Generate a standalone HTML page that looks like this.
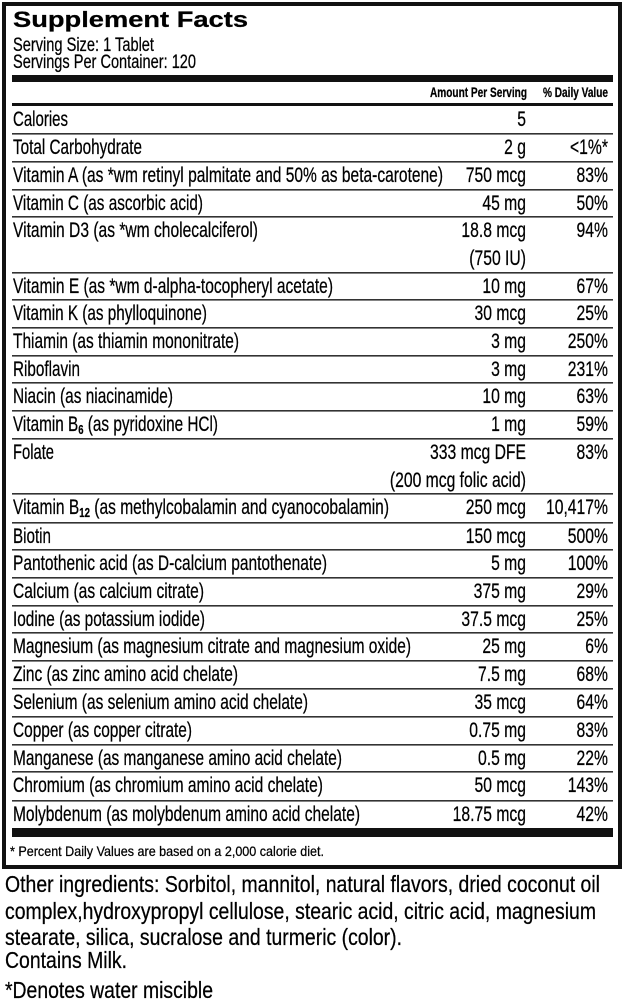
<!DOCTYPE html>
<html>
<head>
<meta charset="utf-8">
<style>
  html,body{margin:0;padding:0;background:#fff;}
  body{width:626px;height:1003px;overflow:hidden;}
  svg{display:block;}
  text{font-family:"Liberation Sans", Arial, sans-serif;fill:#000;stroke:#000;stroke-width:0.25;}
</style>
</head>
<body>
<svg width="626" height="1003" viewBox="0 0 626 1003" xmlns="http://www.w3.org/2000/svg">
  <rect x="0" y="0" width="626" height="1003" fill="#fff"/>
  <!-- outer box -->
  <rect x="4" y="4" width="616" height="863" fill="none" stroke="#111" stroke-width="4"/>

  <!-- header -->
  <text x="13" y="27" font-size="22" font-weight="bold" textLength="235" lengthAdjust="spacingAndGlyphs">Supplement Facts</text>
  <text x="13" y="51" font-size="19" textLength="141" lengthAdjust="spacingAndGlyphs">Serving Size: 1 Tablet</text>
  <text x="13" y="68" font-size="19" textLength="183" lengthAdjust="spacingAndGlyphs">Servings Per Container: 120</text>

  <rect x="12" y="75" width="601" height="7" fill="#111"/>
  <text x="430" y="97" font-size="13.5" font-weight="bold" textLength="97" lengthAdjust="spacingAndGlyphs">Amount Per Serving</text>
  <text x="543" y="97" font-size="13.5" font-weight="bold" textLength="65" lengthAdjust="spacingAndGlyphs">% Daily Value</text>
  <rect x="12" y="103" width="601" height="3" fill="#111"/>

  <!-- row separators -->
  <g fill="#333">
    <rect x="12" y="133" width="601" height="1.6"/>
    <rect x="12" y="161" width="601" height="1.6"/>
    <rect x="12" y="189" width="601" height="1.6"/>
    <rect x="12" y="216" width="601" height="1.6"/>
    <rect x="12" y="272" width="601" height="1.6"/>
    <rect x="12" y="299" width="601" height="1.6"/>
    <rect x="12" y="327" width="601" height="1.6"/>
    <rect x="12" y="355" width="601" height="1.6"/>
    <rect x="12" y="382" width="601" height="1.6"/>
    <rect x="12" y="410" width="601" height="1.6"/>
    <rect x="12" y="438" width="601" height="1.6"/>
    <rect x="12" y="493" width="601" height="1.6"/>
    <rect x="12" y="522" width="601" height="1.6"/>
    <rect x="12" y="549" width="601" height="1.6"/>
    <rect x="12" y="577" width="601" height="1.6"/>
    <rect x="12" y="605" width="601" height="1.6"/>
    <rect x="12" y="632" width="601" height="1.6"/>
    <rect x="12" y="660" width="601" height="1.6"/>
    <rect x="12" y="688" width="601" height="1.6"/>
    <rect x="12" y="716" width="601" height="1.6"/>
    <rect x="12" y="744" width="601" height="1.6"/>
    <rect x="12" y="771" width="601" height="1.6"/>
    <rect x="12" y="800" width="601" height="1.6"/>
  </g>
  <rect x="12" y="828" width="601" height="9" fill="#111"/>

  <!-- labels -->
  <g font-size="21">
    <text x="13" y="126" textLength="55" lengthAdjust="spacingAndGlyphs">Calories</text>
    <text x="13" y="154" textLength="129" lengthAdjust="spacingAndGlyphs">Total Carbohydrate</text>
    <text x="13" y="182" textLength="430" lengthAdjust="spacingAndGlyphs">Vitamin A (as *wm retinyl palmitate and 50% as beta-carotene)</text>
    <text x="13" y="210" textLength="190" lengthAdjust="spacingAndGlyphs">Vitamin C (as ascorbic acid)</text>
    <text x="13" y="237" textLength="245" lengthAdjust="spacingAndGlyphs">Vitamin D3 (as *wm cholecalciferol)</text>
    <text x="13" y="293" textLength="320" lengthAdjust="spacingAndGlyphs">Vitamin E (as *wm d-alpha-tocopheryl acetate)</text>
    <text x="13" y="320" textLength="194" lengthAdjust="spacingAndGlyphs">Vitamin K (as phylloquinone)</text>
    <text x="13" y="348" textLength="226" lengthAdjust="spacingAndGlyphs">Thiamin (as thiamin mononitrate)</text>
    <text x="13" y="376" textLength="67" lengthAdjust="spacingAndGlyphs">Riboflavin</text>
    <text x="13" y="403" textLength="160" lengthAdjust="spacingAndGlyphs">Niacin (as niacinamide)</text>
    <text x="13" y="431" textLength="205" lengthAdjust="spacingAndGlyphs">Vitamin B<tspan font-size="13" font-weight="bold" dy="3">6</tspan><tspan dy="-3"> (as pyridoxine HCl)</tspan></text>
    <text x="13" y="459" textLength="41" lengthAdjust="spacingAndGlyphs">Folate</text>
    <text x="13" y="514" textLength="376" lengthAdjust="spacingAndGlyphs">Vitamin B<tspan font-size="13" font-weight="bold" dy="3">12</tspan><tspan dy="-3"> (as methylcobalamin and cyanocobalamin)</tspan></text>
    <text x="13" y="543" textLength="38" lengthAdjust="spacingAndGlyphs">Biotin</text>
    <text x="13" y="570" textLength="314" lengthAdjust="spacingAndGlyphs">Pantothenic acid (as D-calcium pantothenate)</text>
    <text x="13" y="598" textLength="191" lengthAdjust="spacingAndGlyphs">Calcium (as calcium citrate)</text>
    <text x="13" y="626" textLength="192" lengthAdjust="spacingAndGlyphs">Iodine (as potassium iodide)</text>
    <text x="13" y="653" textLength="398" lengthAdjust="spacingAndGlyphs">Magnesium (as magnesium citrate and magnesium oxide)</text>
    <text x="13" y="681" textLength="225" lengthAdjust="spacingAndGlyphs">Zinc (as zinc amino acid chelate)</text>
    <text x="13" y="709" textLength="295" lengthAdjust="spacingAndGlyphs">Selenium (as selenium amino acid chelate)</text>
    <text x="13" y="737" textLength="179" lengthAdjust="spacingAndGlyphs">Copper (as copper citrate)</text>
    <text x="13" y="765" textLength="329" lengthAdjust="spacingAndGlyphs">Manganese (as manganese amino acid chelate)</text>
    <text x="13" y="792" textLength="310" lengthAdjust="spacingAndGlyphs">Chromium (as chromium amino acid chelate)</text>
    <text x="13" y="821" textLength="347" lengthAdjust="spacingAndGlyphs">Molybdenum (as molybdenum amino acid chelate)</text>
  </g>

  <!-- amounts & DV (condensed via scale) -->
  <g transform="scale(0.748,1)" font-size="21" text-anchor="end">
    <text x="703.2" y="126">5</text>
    <text x="703.2" y="154">2 g</text>
    <text x="703.2" y="182">750 mcg</text>
    <text x="703.2" y="210">45 mg</text>
    <text x="703.2" y="237">18.8 mcg</text>
    <text x="703.2" y="265">(750 IU)</text>
    <text x="703.2" y="293">10 mg</text>
    <text x="703.2" y="320">30 mcg</text>
    <text x="703.2" y="348">3 mg</text>
    <text x="703.2" y="376">3 mg</text>
    <text x="703.2" y="403">10 mg</text>
    <text x="703.2" y="431">1 mg</text>
    <text x="703.2" y="459">333 mcg DFE</text>
    <text x="703.2" y="487">(200 mcg folic acid)</text>
    <text x="703.2" y="514">250 mcg</text>
    <text x="703.2" y="543">150 mcg</text>
    <text x="703.2" y="570">5 mg</text>
    <text x="703.2" y="598">375 mg</text>
    <text x="703.2" y="626">37.5 mcg</text>
    <text x="703.2" y="653">25 mg</text>
    <text x="703.2" y="681">7.5 mg</text>
    <text x="703.2" y="709">35 mcg</text>
    <text x="703.2" y="737">0.75 mg</text>
    <text x="703.2" y="765">0.5 mg</text>
    <text x="703.2" y="792">50 mcg</text>
    <text x="703.2" y="821">18.75 mcg</text>

    <text x="812.8" y="154">&lt;1%*</text>
    <text x="812.8" y="182">83%</text>
    <text x="812.8" y="210">50%</text>
    <text x="812.8" y="237">94%</text>
    <text x="812.8" y="293">67%</text>
    <text x="812.8" y="320">25%</text>
    <text x="812.8" y="348">250%</text>
    <text x="812.8" y="376">231%</text>
    <text x="812.8" y="403">63%</text>
    <text x="812.8" y="431">59%</text>
    <text x="812.8" y="459">83%</text>
    <text x="812.8" y="514">10,417%</text>
    <text x="812.8" y="543">500%</text>
    <text x="812.8" y="570">100%</text>
    <text x="812.8" y="598">29%</text>
    <text x="812.8" y="626">25%</text>
    <text x="812.8" y="653">6%</text>
    <text x="812.8" y="681">68%</text>
    <text x="812.8" y="709">64%</text>
    <text x="812.8" y="737">83%</text>
    <text x="812.8" y="765">22%</text>
    <text x="812.8" y="792">143%</text>
    <text x="812.8" y="821">42%</text>
  </g>

  <!-- footnote -->
  <text x="10" y="856" font-size="14" textLength="314" lengthAdjust="spacingAndGlyphs">* Percent Daily Values are based on a 2,000 calorie diet.</text>

  <!-- other ingredients -->
  <g font-size="23">
    <text x="5" y="892" textLength="595" lengthAdjust="spacingAndGlyphs">Other ingredients: Sorbitol, mannitol, natural flavors, dried coconut oil</text>
    <text x="5" y="919" textLength="591" lengthAdjust="spacingAndGlyphs">complex,hydroxypropyl cellulose, stearic acid, citric acid, magnesium</text>
    <text x="5" y="945" textLength="397" lengthAdjust="spacingAndGlyphs">stearate, silica, sucralose and turmeric (color).</text>
    <text x="5" y="968" textLength="122" lengthAdjust="spacingAndGlyphs">Contains Milk.</text>
    <text x="5" y="998" textLength="208" lengthAdjust="spacingAndGlyphs">*Denotes water miscible</text>
  </g>
</svg>
</body>
</html>
